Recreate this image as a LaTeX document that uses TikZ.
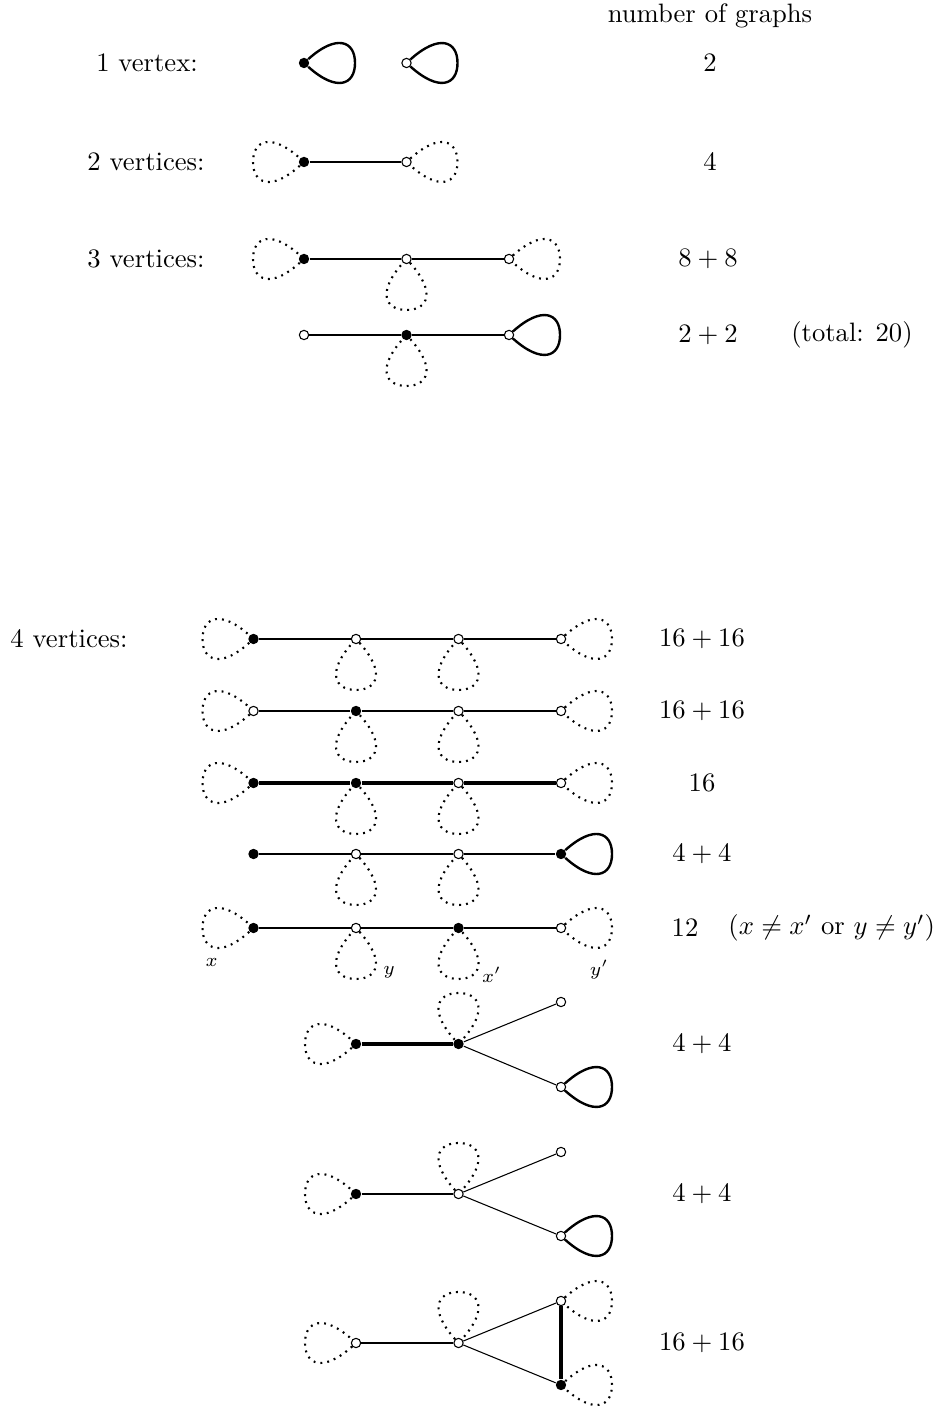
\documentclass[tikz,border=0pt]{standalone}
\usepackage{amsmath}
\usepackage{tikz}

\newcommand{\tear}[3]{\draw[#1] (#2) .. controls ([shift={(#3+42:44)}]#2.center) and ([shift={(#3:51)},shift={(#3+90:22)}]#2.center) .. ([shift={(#3:51)}]#2.center) .. controls ([shift={(#3:51)},shift={(#3-90:22)}]#2.center) and ([shift={(#3-42:44)}]#2.center) .. (#2);}

\begin{document}
\begin{tikzpicture}[x=0.3756pt, y=0.3756pt, node distance=38.5pt,
    fv/.style={circle, fill, inner sep=0pt, minimum size=3.9pt},
    ov/.style={circle, draw, fill=white, inner sep=0pt, minimum size=3.5pt, line width=0.4pt},
    ln/.style={line width=0.75pt},
    boldln/.style={line width=1.15pt},
    thinln/.style={line width=0.4pt},
    sl/.style={line width=0.9pt},
    dl/.style={line width=0.8pt, dash pattern=on 0.7pt off 1.9pt}]
    \useasboundingbox (0,0) rectangle (936,1408);

    % labels
    \node[anchor=base] (head) at (710,1385) {number of graphs};
    \node (t1) at (147,1345) {1 vertex:};
    \node (t2) at (146,1246) {2 vertices:};
    \node (t3) at (146,1149) {3 vertices:};
    \node (t4) at (69,769) {4 vertices:};

    % 1 vertex
    \node[fv] (a1) at (304,1345) {};
    \node[ov] (a2) [right of=a1] {};
    \tear{sl}{a1}{0}
    \tear{sl}{a2}{0}
    \node (n1) at (710,1345) {$2$};

    % 2 vertices
    \node[fv] (b1) at (304,1246) {};
    \node[ov] (b2) [right of=b1] {};
    \draw[ln] (b1) -- (b2);
    \tear{dl}{b1}{180}
    \tear{dl}{b2}{0}
    \node (n2) at (710,1246) {$4$};

    % 3 vertices
    \node[fv] (c1) at (304,1149) {};
    \node[ov] (c2) [right of=c1] {};
    \node[ov] (c3) [right of=c2] {};
    \draw[ln] (c1) -- (c2) -- (c3);
    \tear{dl}{c1}{180}
    \tear{dl}{c2}{-90}
    \tear{dl}{c3}{0}
    \node (n3) at (708,1149) {$8+8$};

    \node[ov] (d1) at (304,1073) {};
    \node[fv] (d2) [right of=d1] {};
    \node[ov] (d3) [right of=d2] {};
    \draw[ln] (d1) -- (d2) -- (d3);
    \tear{dl}{d2}{-90}
    \tear{sl}{d3}{0}
    \node (n4) at (708,1073) {$2+2$};
    \node (tot) at (852,1073) {(total: 20)};

    % 4 vertices
    \node[fv] (e1) at (253.5,769) {};
    \node[ov] (e2) [right of=e1] {};
    \node[ov] (e3) [right of=e2] {};
    \node[ov] (e4) [right of=e3] {};
    \draw[ln] (e1) -- (e2) -- (e3) -- (e4);
    \tear{dl}{e1}{180}
    \tear{dl}{e2}{-90}
    \tear{dl}{e3}{-90}
    \tear{dl}{e4}{0}
    \node (n5) at (702,769) {$16+16$};

    \node[ov] (f1) at (253.5,697) {};
    \node[fv] (f2) [right of=f1] {};
    \node[ov] (f3) [right of=f2] {};
    \node[ov] (f4) [right of=f3] {};
    \draw[ln] (f1) -- (f2) -- (f3) -- (f4);
    \tear{dl}{f1}{180}
    \tear{dl}{f2}{-90}
    \tear{dl}{f3}{-90}
    \tear{dl}{f4}{0}
    \node (n6) at (702,697) {$16+16$};

    \node[fv] (g1) at (253.5,625) {};
    \node[fv] (g2) [right of=g1] {};
    \node[ov] (g3) [right of=g2] {};
    \node[ov] (g4) [right of=g3] {};
    \draw[boldln] (g1) -- (g2) -- (g3) -- (g4);
    \tear{dl}{g1}{180}
    \tear{dl}{g2}{-90}
    \tear{dl}{g3}{-90}
    \tear{dl}{g4}{0}
    \node (n7) at (702,625) {$16$};

    \node[fv] (h1) at (253.5,554) {};
    \node[ov] (h2) [right of=h1] {};
    \node[ov] (h3) [right of=h2] {};
    \node[fv] (h4) [right of=h3] {};
    \draw[ln] (h1) -- (h2) -- (h3) -- (h4);
    \tear{dl}{h2}{-90}
    \tear{dl}{h3}{-90}
    \tear{sl}{h4}{0}
    \node (n8) at (702,554) {$4+4$};

    \node[fv] (i1) at (253.5,480) {};
    \node[ov] (i2) [right of=i1] {};
    \node[fv] (i3) [right of=i2] {};
    \node[ov] (i4) [right of=i3] {};
    \draw[ln] (i1) -- (i2) -- (i3) -- (i4);
    \tear{dl}{i1}{180}
    \tear{dl}{i2}{-90}
    \tear{dl}{i3}{-90}
    \tear{dl}{i4}{0}
    \node[font=\scriptsize] (lx) at (211.7,446) {$x$};
    \node[font=\scriptsize] (ly) at (389,436) {$y$};
    \node[font=\scriptsize] (lx2) at (491.7,433) {$x'$};
    \node[font=\scriptsize] (ly2) at (599.3,438) {$y'$};
    \node (n9) at (685,480) {$12$};
    \node[anchor=west] (cond) at (719,480) {$(x\neq x'$ or $y\neq y')$};

    \node[fv] (j1) at (356,364) {};
    \node[fv] (j2) [right of=j1] {};
    \node[ov] (j3) at (561,406) {};
    \node[ov] (j4) at (561,321) {};
    \draw[boldln] (j1) -- (j2);
    \draw[thinln] (j2) -- (j3);
    \draw[thinln] (j2) -- (j4);
    \tear{dl}{j1}{180}
    \tear{dl}{j2}{90}
    \tear{sl}{j4}{0}
    \node (n10) at (702,364) {$4+4$};

    \node[fv] (k1) at (356,214) {};
    \node[ov] (k2) [right of=k1] {};
    \node[ov] (k3) at (561,256) {};
    \node[ov] (k4) at (561,172) {};
    \draw[ln] (k1) -- (k2);
    \draw[thinln] (k2) -- (k3);
    \draw[thinln] (k2) -- (k4);
    \tear{dl}{k1}{180}
    \tear{dl}{k2}{90}
    \tear{sl}{k4}{0}
    \node (n11) at (702,214) {$4+4$};

    \node[ov] (l1) at (356,65) {};
    \node[ov] (l2) [right of=l1] {};
    \node[ov] (l3) at (561,107) {};
    \node[fv] (l4) at (561,23) {};
    \draw[ln] (l1) -- (l2);
    \draw[thinln] (l2) -- (l3);
    \draw[thinln] (l2) -- (l4);
    \draw[boldln] (l3) -- (l4);
    \tear{dl}{l1}{180}
    \tear{dl}{l2}{90}
    \tear{dl}{l3}{0}
    \tear{dl}{l4}{0}
    \node (n12) at (702,65) {$16+16$};
\end{tikzpicture}
\end{document}
